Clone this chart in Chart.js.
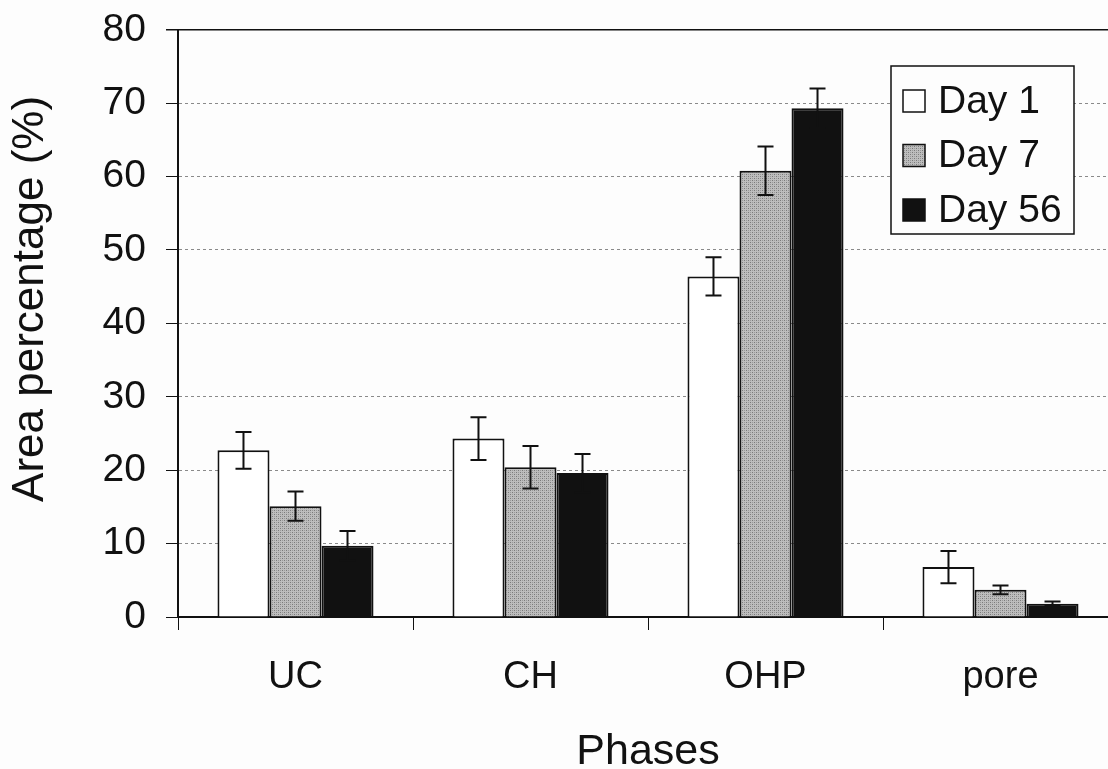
<!DOCTYPE html>
<html>
<head>
<meta charset="utf-8">
<script src="https://cdn.jsdelivr.net/npm/chart.js@4.4.1/dist/chart.umd.min.js"></script>
<style>
  html, body { margin: 0; padding: 0; background: #fdfdfd; overflow: hidden; }
  #wrap { width: 1122px; height: 769px; }
</style>
</head>
<body>
<div id="wrap"><canvas id="doThi"></canvas></div>
<script>
var _phases = ['UC', 'CH', 'OHP', 'pore'];
var _seriesNames = ['Day 1', 'Day 7', 'Day 56'];
var _day1 = [22.7, 24.3, 46.4, 6.8];
var _day7 = [15.1, 20.4, 60.8, 3.7];
var _day56 = [9.7, 19.6, 69.3, 1.8];
var _day1Err = [2.5, 2.9, 2.6, 2.2];
var _day7Err = [2.0, 2.9, 3.3, 0.6];
var _day56Err = [2.0, 2.6, 2.7, 0.3];
var _yTicks = [0, 10, 20, 30, 40, 50, 60, 70, 80];

var _font = '"Liberation Sans", Arial, sans-serif';

// hoa van cham cho Day 7
function taoHoaVan() {
    var c = document.createElement('canvas');
    c.width = 4; c.height = 4;
    var g = c.getContext('2d');
    g.fillStyle = '#bdbdbd';
    g.fillRect(0, 0, 4, 4);
    g.fillStyle = '#7a7a7a';
    g.fillRect(0, 0, 1, 1);
    g.fillRect(2, 2, 1, 1);
    g.fillStyle = '#9a9a9a';
    g.fillRect(2, 0, 1, 1);
    g.fillRect(0, 2, 1, 1);
    return document.getElementById('doThi').getContext('2d').createPattern(c, 'repeat');
}
var _hoaVan = taoHoaVan();
var _fills = ['#ffffff', _hoaVan, '#111111'];
var _errs = [_day1Err, _day7Err, _day56Err];

var errorBarPlugin = {
    id: 'errorBars',
    afterDatasetsDraw: function (chart) {
        var ctx = chart.ctx;
        var y = chart.scales.y;
        ctx.save();
        ctx.strokeStyle = '#111';
        ctx.lineWidth = 2;
        chart.data.datasets.forEach(function (ds, d) {
            var meta = chart.getDatasetMeta(d);
            meta.data.forEach(function (bar, i) {
                var v = ds.data[i];
                var e = _errs[d][i];
                var yHi = y.getPixelForValue(v + e);
                var yLo = y.getPixelForValue(v - e);
                ctx.beginPath();
                ctx.moveTo(bar.x, yHi); ctx.lineTo(bar.x, yLo);
                ctx.moveTo(bar.x - 8, yHi); ctx.lineTo(bar.x + 8, yHi);
                ctx.moveTo(bar.x - 8, yLo); ctx.lineTo(bar.x + 8, yLo);
                ctx.stroke();
            });
        });
        ctx.restore();
    }
};

var framePlugin = {
    id: 'frame',
    afterDraw: function (chart) {
        var ctx = chart.ctx;
        var a = chart.chartArea;
        ctx.save();
        ctx.strokeStyle = '#111';
        ctx.lineWidth = 1.5;
        ctx.beginPath();
        ctx.moveTo(a.left - 12, a.top); ctx.lineTo(a.right, a.top);
        ctx.stroke();
        // chu giai
        var bx = 891, by = 66, bw = 183, bh = 168;
        ctx.fillStyle = '#fdfdfd';
        ctx.fillRect(bx, by, bw, bh);
        ctx.lineWidth = 1.5;
        ctx.strokeRect(bx, by, bw, bh);
        ctx.font = '39px ' + _font;
        ctx.textBaseline = 'middle';
        chart.data.datasets.forEach(function (ds, d) {
            var cy = by + 35 + d * 54.5;
            ctx.fillStyle = _fills[d];
            ctx.fillRect(903, cy - 11, 22, 22);
            ctx.lineWidth = 1.5;
            ctx.strokeRect(903, cy - 11, 22, 22);
            ctx.fillStyle = '#111';
            ctx.fillText(ds.label, 938, cy + 1);
        });
        ctx.restore();
    }
};

var _datasets = [_day1, _day7, _day56].map(function (vals, d) {
    return {
        label: _seriesNames[d],
        data: vals,
        backgroundColor: _fills[d],
        borderColor: '#111',
        borderWidth: 2,
        borderSkipped: 'bottom',
        barPercentage: 1.0,
        categoryPercentage: 0.664
    };
});

new Chart(document.getElementById('doThi'), {
    type: 'bar',
    data: { labels: _phases, datasets: _datasets },
    plugins: [errorBarPlugin, framePlugin],
    options: {
        responsive: true,
        maintainAspectRatio: false,
        animation: false,
        layout: { padding: { top: 29, right: 4, left: 0, bottom: 0 } },
        plugins: { legend: { display: false }, tooltip: { enabled: false } },
        scales: {
            x: {
                grid: { display: true, drawOnChartArea: false, color: '#111', tickLength: 13, offset: true, lineWidth: 1 },
                border: { display: true, color: '#111', width: 2 },
                ticks: { color: '#111', font: { family: _font, size: 38 }, padding: 25 },
                title: { display: true, text: 'Phases', color: '#111', font: { family: _font, size: 43, lineHeight: 0.8 }, padding: { top: 0, bottom: 0 } },
                afterFit: function (s) { s.height = 152; }
            },
            y: {
                min: 0, max: 80,
                afterBuildTicks: function (s) { s.ticks = _yTicks.map(function (v) { return { value: v }; }); },
                grid: {
                    color: function (c) { return (c.tick && (c.tick.value === 0 || c.tick.value === 80)) ? 'rgba(0,0,0,0)' : '#8a8a8a'; },
                    tickColor: '#111',
                    tickLength: 12,
                    lineWidth: 1
                },
                border: { display: true, color: '#111', width: 2, dash: [3, 3] },
                ticks: { color: '#111', font: { family: _font, size: 39, lineHeight: 0.5 }, padding: 20 },
                title: { display: true, text: '    Area percentage (%)', color: '#111', font: { family: _font, size: 44 }, padding: { top: 4, bottom: 0 } },
                afterFit: function (s) { s.width = 178; }
            }
        }
    }
});
</script>
</body>
</html>
